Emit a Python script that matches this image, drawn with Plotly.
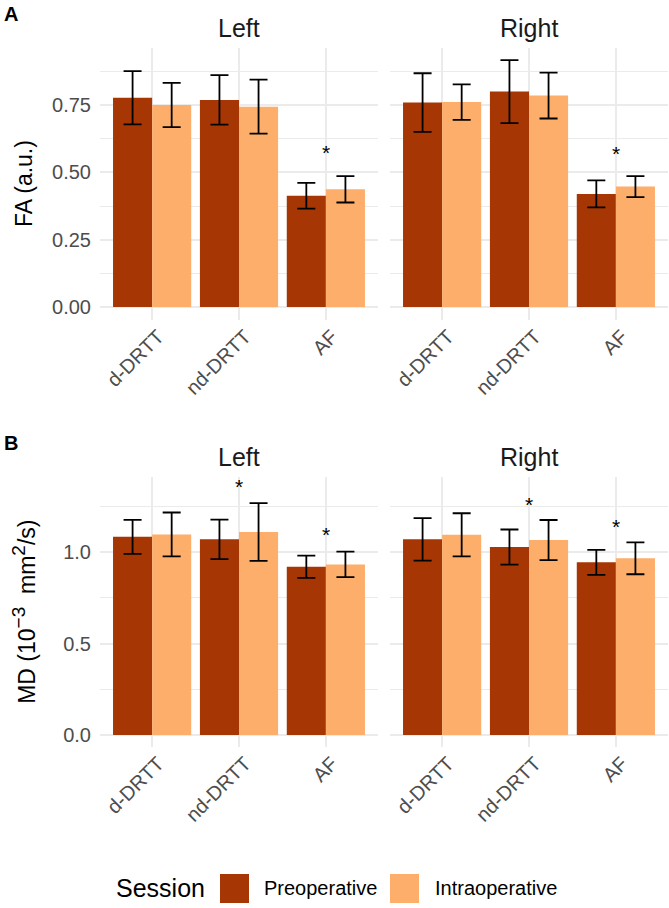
import plotly.graph_objects as go

# ---------------- data ----------------
tracts = ["d-DRTT", "nd-DRTT", "AF"]
sides = ["Left", "Right"]
sessions = ["Preoperative", "Intraoperative"]

fa_left_pre = [0.777, 0.769, 0.413]
fa_left_pre_err = [0.099, 0.092, 0.048]
fa_left_intra = [0.750, 0.744, 0.437]
fa_left_intra_err = [0.082, 0.100, 0.049]
fa_right_pre = [0.759, 0.800, 0.420]
fa_right_pre_err = [0.109, 0.117, 0.050]
fa_right_intra = [0.761, 0.785, 0.447]
fa_right_intra_err = [0.066, 0.085, 0.039]

md_left_pre = [1.085, 1.071, 0.921]
md_left_pre_err = [0.093, 0.108, 0.061]
md_left_intra = [1.098, 1.111, 0.934]
md_left_intra_err = [0.120, 0.158, 0.070]
md_right_pre = [1.071, 1.029, 0.945]
md_right_pre_err = [0.116, 0.096, 0.068]
md_right_intra = [1.096, 1.067, 0.967]
md_right_intra_err = [0.118, 0.110, 0.087]

# significance markers (tract, y position)
fa_left_star_x = ["AF"]
fa_left_star_y = [0.594]
fa_right_star_x = ["AF"]
fa_right_star_y = [0.590]
md_left_star_x = ["nd-DRTT", "AF"]
md_left_star_y = [1.387, 1.126]
md_right_star_x = ["nd-DRTT", "AF"]
md_right_star_y = [1.290, 1.171]

fa_ticks = [0.0, 0.25, 0.5, 0.75]
fa_minor = [0.125, 0.375, 0.625, 0.875]
md_ticks = [0.0, 0.5, 1.0]
md_minor = [0.25, 0.75, 1.25]

# ---------------- style ----------------
W, H = 669, 908
PRE = "#A63603"
INTRA = "#FDAE6B"
FONT = "Liberation Sans, Arial, Helvetica, sans-serif"
TICKC = "#4D4D4D"
GRID = "#EBEBEB"


def px(x):
    return x / W


def py(y):
    return 1 - y / H


fig = go.Figure()
ann = []

panels = [
    ("x", "y", fa_left_pre, fa_left_pre_err, fa_left_intra, fa_left_intra_err, fa_left_star_x, fa_left_star_y),
    ("x2", "y2", fa_right_pre, fa_right_pre_err, fa_right_intra, fa_right_intra_err, fa_right_star_x, fa_right_star_y),
    ("x3", "y3", md_left_pre, md_left_pre_err, md_left_intra, md_left_intra_err, md_left_star_x, md_left_star_y),
    ("x4", "y4", md_right_pre, md_right_pre_err, md_right_intra, md_right_intra_err, md_right_star_x, md_right_star_y),
]

for xa, ya, pre, pre_e, intra, intra_e, sx, sy in panels:
    for name, vals, errs, col in [(sessions[0], pre, pre_e, PRE), (sessions[1], intra, intra_e, INTRA)]:
        fig.add_trace(go.Bar(
            x=tracts, y=vals, name=name, marker=dict(color=col, line=dict(width=0)),
            error_y=dict(type="data", array=errs, visible=True, color="black", thickness=1.8, width=9),
            xaxis=xa, yaxis=ya, showlegend=False, offsetgroup=name,
        ))
    for tx, ty in zip(sx, sy):
        ann.append(dict(text="*", x=tx, y=ty, xref=xa, yref=ya, showarrow=False, yshift=-5,
                        xanchor="center", yanchor="middle",
                        font=dict(size=21, color="black", family=FONT)))

xdom_l = [px(100), px(378)]
xdom_r = [px(390), px(668)]
ydom_a = [py(320), py(48)]
ydom_b = [py(747), py(476.7)]

xcommon = dict(type="category", range=[-0.6, 2.6], showgrid=True, gridcolor=GRID, gridwidth=1.5,
               zeroline=False, showline=False, ticks="", tickangle=-45,
               tickfont=dict(family=FONT, size=20, color=TICKC), categoryorder="array",
               categoryarray=tracts, ticklabelstandoff=0, ticklabelshift=6)


def ycommon(rng, tv, mv, fmt, show):
    return dict(range=rng, tickvals=tv, tickformat=fmt, showgrid=True, gridcolor=GRID, gridwidth=1.5,
                zeroline=False, showline=False, ticks="", showticklabels=show,
                tickfont=dict(family=FONT, size=20, color=TICKC), ticklabelstandoff=8,
                minor=dict(tickvals=mv, showgrid=True, gridcolor=GRID, gridwidth=0.8, ticks=""))


fig.update_layout(
    width=W, height=H, margin=dict(l=0, r=0, t=0, b=0),
    paper_bgcolor="white", plot_bgcolor="white",
    barmode="group", bargap=0.1, bargroupgap=0,
    font=dict(family=FONT),
    xaxis=dict(xcommon, domain=xdom_l, anchor="y"),
    xaxis2=dict(xcommon, domain=xdom_r, anchor="y2"),
    xaxis3=dict(xcommon, domain=xdom_l, anchor="y3"),
    xaxis4=dict(xcommon, domain=xdom_r, anchor="y4"),
    yaxis=dict(ycommon([-0.0483, 0.9617], fa_ticks, fa_minor, ".2f", True), domain=ydom_a, anchor="x"),
    yaxis2=dict(ycommon([-0.0483, 0.9617], fa_ticks, fa_minor, ".2f", False), domain=ydom_a, anchor="x2"),
    yaxis3=dict(ycommon([-0.0657, 1.414], md_ticks, md_minor, ".1f", True), domain=ydom_b, anchor="x3"),
    yaxis4=dict(ycommon([-0.0657, 1.414], md_ticks, md_minor, ".1f", False), domain=ydom_b, anchor="x4"),
)

# panel letters
ann.append(dict(text="<b>A</b>", x=px(2), y=py(14), xref="paper", yref="paper", xanchor="left", yanchor="middle",
                showarrow=False, font=dict(size=20, color="black", family=FONT)))
ann.append(dict(text="<b>B</b>", x=px(2), y=py(443), xref="paper", yref="paper", xanchor="left", yanchor="middle",
                showarrow=False, font=dict(size=20, color="black", family=FONT)))
# facet strips
for yy in (28, 457):
    for side, dom in zip(sides, (xdom_l, xdom_r)):
        ann.append(dict(text=side, x=(dom[0] + dom[1]) / 2, y=py(yy), xref="paper", yref="paper",
                        xanchor="center", yanchor="middle", showarrow=False,
                        font=dict(size=25, color="#1A1A1A", family=FONT)))
# y titles
ann.append(dict(text="FA (a.u.)", x=px(24), y=(ydom_a[0] + ydom_a[1]) / 2, xref="paper", yref="paper",
                xanchor="center", yanchor="middle", textangle=-90, showarrow=False,
                font=dict(size=23, color="black", family=FONT)))
ann.append(dict(text="MD (10<sup><span style='font-size:19px'>\u22123</span></sup>\u00a0\u00a0mm"
                     "<sup><span style='font-size:19px'>2</span></sup>/s)",
                x=px(24), y=(ydom_b[0] + ydom_b[1]) / 2,
                xref="paper", yref="paper", xanchor="center", yanchor="middle", textangle=-90, showarrow=False,
                font=dict(size=23, color="black", family=FONT)))
# legend
ann.append(dict(text="Session", x=px(114), y=py(888), xref="paper", yref="paper", xanchor="left", yanchor="middle",
                showarrow=False, font=dict(size=25, color="black", family=FONT)))
ann.append(dict(text=sessions[0], x=px(262), y=py(888), xref="paper", yref="paper", xanchor="left", yanchor="middle",
                showarrow=False, font=dict(size=20, color="black", family=FONT)))
ann.append(dict(text=sessions[1], x=px(433), y=py(888), xref="paper", yref="paper", xanchor="left", yanchor="middle",
                showarrow=False, font=dict(size=20, color="black", family=FONT)))
fig.update_layout(annotations=ann)

shapes = [
    dict(type="rect", xref="paper", yref="paper", x0=px(220), x1=px(249), y0=py(903), y1=py(874),
         fillcolor=PRE, line=dict(width=0)),
    dict(type="rect", xref="paper", yref="paper", x0=px(390), x1=px(419), y0=py(903), y1=py(874),
         fillcolor=INTRA, line=dict(width=0)),
]
fig.update_layout(shapes=shapes)

fig.write_html("out.html")
